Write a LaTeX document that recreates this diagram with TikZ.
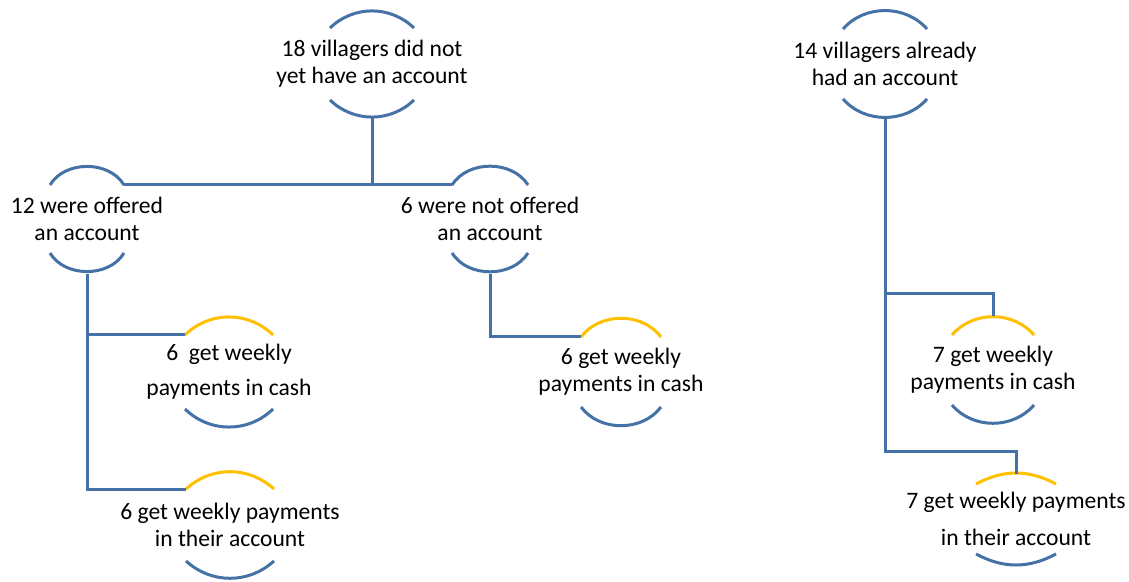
\documentclass[tikz,border=0pt]{standalone}
\usepackage{fontspec}
\setmainfont{Carlito}
\usetikzlibrary{calc,topaths}
\definecolor{arcblue}{RGB}{68,114,166}
\definecolor{arcgold}{RGB}{255,192,0}
\tikzset{
  bub/.style={align=center,inner sep=0pt,font=\fontsize{23.6}{27}\selectfont},
  rim/.style={line width=3pt},
  link/.style={arcblue,line width=3pt},
}
\begin{document}
\begin{tikzpicture}[x=1pt,y=1pt]
  \useasboundingbox (0,0) rectangle (1129,581);
  % the groups
  \node[bub] (n18) at (372,517) {18 villagers did not\\yet have an account};
  \node[bub] (n14) at (885,517) {14 villagers already\\had an account};
  \node[bub] (off12) at (87,362) {12 were offered\\an account};
  \node[bub] (noff6) at (490,362) {6 were not offered\\an account};
  \node[bub] (cash6a) at (229,209) {6\ \ get weekly\\[8pt]payments in cash};
  \node[bub] (cash6b) at (621,209) {6 get weekly\\payments in cash};
  \node[bub] (acct6) at (230,56) {6 get weekly payments\\in their account};
  \node[bub] (cash7) at (993,211) {7 get weekly\\payments in cash};
  \node[bub] (acct7) at (1016,62) {7 get weekly payments\\[10pt]in their account};
  % half rims round each group
  \foreach \n/\w/\h/\s/\tc in {n18/42/53/17/arcblue,n14/42/54/19/arcblue,
      off12/37/55/21/arcblue,noff6/38/55/21/arcblue,cash6a/44/55/18/arcgold,
      cash6b/40/55/20/arcgold,acct6/44/53/17/arcgold,cash7/41/54/19/arcgold,
      acct7/40/45/10/arcgold}{
    \pgfmathsetmacro\ba{2*atan(\s/\w)}
    \coordinate (\n-tl) at ([shift={(-\w,\h-\s)}]\n.center);
    \coordinate (\n-tr) at ([shift={(\w,\h-\s)}]\n.center);
    \coordinate (\n-bl) at ([shift={(-\w,\s-\h)}]\n.center);
    \coordinate (\n-br) at ([shift={(\w,\s-\h)}]\n.center);
    \coordinate (\n-top) at ([shift={(0,\h)}]\n.center);
    \coordinate (\n-bot) at ([shift={(0,-\h)}]\n.center);
    \draw[rim,\tc] (\n-tl) to[bend left=\ba] (\n-tr);
    \draw[rim,arcblue] (\n-bl) to[bend right=\ba] (\n-br);
  }
  % connectors
  \draw[link] (n18-bot) -- (n18-bot |- off12-tr);
  \draw[link] (off12-tr) -- (noff6-tl);
  \draw[link] (off12-bot) |- (cash6a-tl);
  \draw[link] (off12-bot) |- (acct6-tl);
  \draw[link] (noff6-bot) |- (cash6b-tl);
  \draw[link] (n14-bot) |- ([yshift=22]cash7-top) -- (cash7-top);
  \draw[link] (n14-bot) |- ([yshift=22]acct7-top) -- (acct7-top);
\end{tikzpicture}
\end{document}
